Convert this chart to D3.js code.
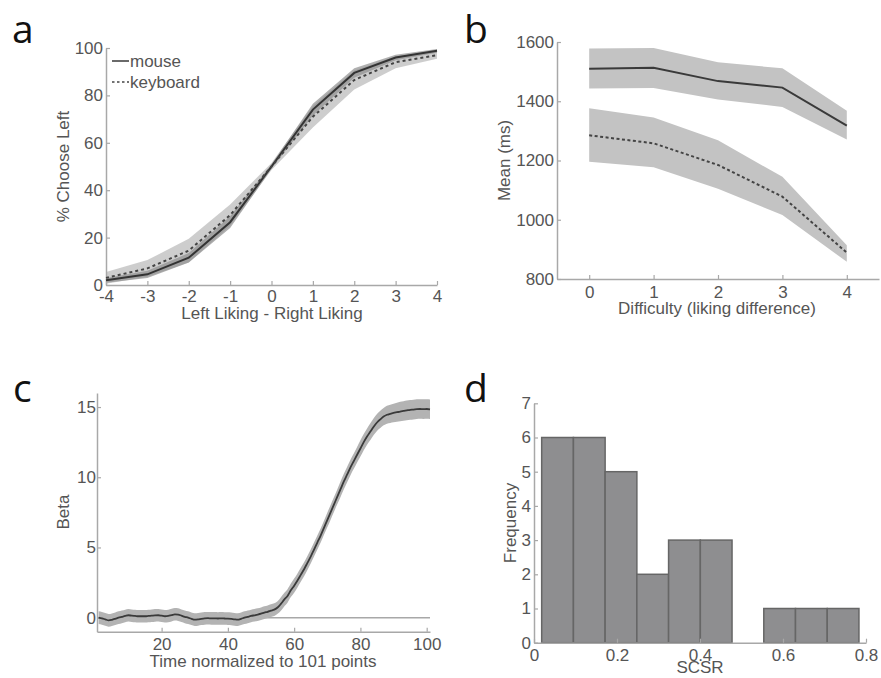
<!DOCTYPE html>
<html><head><meta charset="utf-8">
<script src="https://cdn.jsdelivr.net/npm/d3@7"></script>
<style>
html,body{margin:0;padding:0;background:#fff;}
svg{display:block;}
</style></head>
<body>
<svg id="chart" width="881" height="678"></svg>
<script>
// ---------- Panel a ----------
const aLiking = [-4, -3, -2, -1, 0, 1, 2, 3, 4];
const aMouse = [2, 4.5, 11.5, 26.5, 50, 74, 89.5, 96, 98.8];
const aMouseSE = [1, 1.5, 2, 2.5, 1, 2.5, 2, 1.2, 0.8];
const aKeyboard = [3, 7, 14.5, 29.5, 50, 71, 86.5, 94, 97];
const aKeyboardSE = [2.5, 3.5, 5, 4.5, 1.5, 4.5, 4, 2.5, 1.5];
const aXTicks = [-4, -3, -2, -1, 0, 1, 2, 3, 4];
const aYTicks = [0, 20, 40, 60, 80, 100];
const aLegend = ["mouse", "keyboard"];

// ---------- Panel b ----------
const bDifficulty = [0, 1, 2, 3, 4];
const bMouse = [1510, 1513, 1468, 1446, 1318];
const bMouseLo = [1443, 1445, 1406, 1381, 1271];
const bMouseHi = [1578, 1580, 1532, 1511, 1368];
const bKeyboard = [1285, 1258, 1185, 1078, 889];
const bKeyboardLo = [1196, 1177, 1105, 1016, 858];
const bKeyboardHi = [1376, 1345, 1268, 1145, 914];
const bXTicks = [0, 1, 2, 3, 4];
const bYTicks = [800, 1000, 1200, 1400, 1600];

// ---------- Panel c ----------
const cBeta = [
  0.0, -0.05, -0.12, -0.19, -0.15, -0.08, 0.0, 0.06, 0.12, 0.17,
  0.14, 0.12, 0.1, 0.1, 0.1, 0.12, 0.14, 0.16, 0.17, 0.14,
  0.1, 0.12, 0.18, 0.24, 0.22, 0.14, 0.06, 0.0, -0.08, -0.14,
  -0.12, -0.08, -0.05, -0.04, -0.05, -0.05, -0.06, -0.05, -0.06, -0.07,
  -0.09, -0.12, -0.14, -0.08, 0.0, 0.06, 0.12, 0.17, 0.22, 0.28,
  0.36, 0.42, 0.5, 0.57, 0.72, 0.98, 1.28, 1.55, 1.95, 2.28,
  2.65, 3.05, 3.45, 3.9, 4.35, 4.85, 5.35, 5.85, 6.4, 6.95,
  7.5, 8.05, 8.6, 9.15, 9.7, 10.2, 10.7, 11.15, 11.6, 12.05,
  12.5, 12.9, 13.25, 13.6, 13.9, 14.12, 14.32, 14.45, 14.52, 14.58,
  14.63, 14.68, 14.72, 14.76, 14.8, 14.82, 14.85, 14.86, 14.85, 14.86,
  14.84
];
const cSE = [
  0.45, 0.45, 0.45, 0.45, 0.45, 0.45, 0.45, 0.45, 0.45, 0.45,
  0.45, 0.45, 0.45, 0.45, 0.45, 0.45, 0.45, 0.45, 0.45, 0.45,
  0.45, 0.45, 0.45, 0.45, 0.45, 0.45, 0.45, 0.45, 0.45, 0.45,
  0.45, 0.45, 0.45, 0.45, 0.45, 0.45, 0.45, 0.45, 0.45, 0.45,
  0.45, 0.45, 0.45, 0.45, 0.45, 0.45, 0.45, 0.45, 0.45, 0.45,
  0.45, 0.45, 0.45, 0.45, 0.45, 0.48, 0.48, 0.48, 0.48, 0.5,
  0.5, 0.5, 0.5, 0.5, 0.5, 0.5, 0.5, 0.5, 0.5, 0.52,
  0.52, 0.52, 0.52, 0.55, 0.55, 0.55, 0.55, 0.55, 0.55, 0.58,
  0.58, 0.58, 0.6, 0.6, 0.6, 0.62, 0.62, 0.64, 0.65, 0.66,
  0.68, 0.7, 0.7, 0.7, 0.7, 0.7, 0.7, 0.7, 0.7, 0.7,
  0.7
];
const cXTicks = [20, 40, 60, 80, 100];
const cYTicks = [0, 5, 10, 15];

// ---------- Panel d ----------
const dBinEdges = [0.0185, 0.0950, 0.1714, 0.2479, 0.3243, 0.4008, 0.4772, 0.5537, 0.6301, 0.7066, 0.7830];
const dCounts = [6, 6, 5, 2, 3, 3, 0, 1, 1, 1];
const dXTicks = [0, 0.2, 0.4, 0.6, 0.8];
const dYTicks = [0, 1, 2, 3, 4, 5, 6, 7];

// ---------- styles ----------
const FONT = '"Liberation Sans", Arial, sans-serif';
const TXT = "#555";
const AXC = "#a8a8a8";
const FS = 17;
const plain = d => String(d);

const svg = d3.select("#chart");

function styleAxis(g) {
  g.select(".domain").attr("stroke", AXC).attr("stroke-width", 1.5);
  g.selectAll(".tick line").attr("stroke", AXC).attr("stroke-width", 1.2);
  g.selectAll(".tick text").attr("fill", TXT).attr("font-size", FS).attr("font-family", FONT);
}

function drawAxes(x, y, xTicks, yTicks, xPad, yPad) {
  const gx = svg.append("g").attr("transform", `translate(0,${y.range()[0]})`)
    .call(d3.axisBottom(x).tickValues(xTicks).tickSizeInner(-4).tickSizeOuter(0).tickPadding(xPad).tickFormat(plain));
  styleAxis(gx);
  const gy = svg.append("g").attr("transform", `translate(${x.range()[0]},0)`)
    .call(d3.axisLeft(y).tickValues(yTicks).tickSizeInner(-4).tickSizeOuter(0).tickPadding(yPad).tickFormat(plain));
  styleAxis(gy);
}

function label(text, x, y, rotate) {
  const t = svg.append("text").text(text).attr("font-family", FONT).attr("font-size", FS)
    .attr("fill", TXT).attr("text-anchor", "middle");
  if (rotate) t.attr("transform", `translate(${x},${y}) rotate(-90)`);
  else t.attr("x", x).attr("y", y);
}

function panelLetter(ch, x, y) {
  svg.append("text").text(ch).attr("x", x).attr("y", y)
    .attr("font-family", '"Open Sans", "Noto Sans", sans-serif').attr("font-size", 39).attr("fill", "#111");
}

// ===== Panel a =====
{
  const x = d3.scaleLinear().domain([-4, 4]).range([106, 437]);
  const y = d3.scaleLinear().domain([0, 100]).range([285, 48]);
  const area = (m, se) => d3.area().x((d, i) => x(aLiking[i])).y0((d, i) => y(Math.max(0, m[i] - se[i]))).y1((d, i) => y(Math.min(100, m[i] + se[i])));
  svg.append("path").datum(aLiking).attr("d", area(aKeyboard, aKeyboardSE)).attr("fill", "#c4c4c4").attr("opacity", 0.85);
  svg.append("path").datum(aLiking).attr("d", area(aMouse, aMouseSE)).attr("fill", "#8f8f8f").attr("opacity", 0.7);
  drawAxes(x, y, aXTicks, aYTicks, 5, 3);
  const line = (m) => d3.line().x((d, i) => x(aLiking[i])).y((d, i) => y(m[i]));
  svg.append("path").datum(aLiking).attr("d", line(aMouse)).attr("fill", "none").attr("stroke", "#333").attr("stroke-width", 2);
  svg.append("path").datum(aLiking).attr("d", line(aKeyboard)).attr("fill", "none").attr("stroke", "#444").attr("stroke-width", 2).attr("stroke-dasharray", "3,3");
  const lg = svg.append("g");
  aLegend.forEach((name, i) => {
    const yy = 61 + i * 21;
    lg.append("line").attr("x1", 112).attr("x2", 129).attr("y1", yy).attr("y2", yy)
      .attr("stroke", "#444").attr("stroke-width", 1.6).attr("stroke-dasharray", i === 0 ? null : "2.5,2.5");
    lg.append("text").text(name).attr("x", 130).attr("y", yy + 6).attr("font-family", FONT).attr("font-size", FS).attr("fill", TXT);
  });
  label("% Choose Left", 69, 166.5, true);
  label("Left Liking - Right Liking", 272, 319);
  panelLetter("a", 12, 43);
}

// ===== Panel b =====
{
  const x = d3.scaleLinear().domain([-0.5, 4.5]).range([557, 879]);
  const y = d3.scaleLinear().domain([800, 1600]).range([279, 42]);
  const band = (lo, hi) => d3.area().x((d, i) => x(bDifficulty[i])).y0((d, i) => y(lo[i])).y1((d, i) => y(hi[i]));
  svg.append("path").datum(bDifficulty).attr("d", band(bMouseLo, bMouseHi)).attr("fill", "#c3c3c3");
  svg.append("path").datum(bDifficulty).attr("d", band(bKeyboardLo, bKeyboardHi)).attr("fill", "#c3c3c3");
  drawAxes(x, y, bXTicks, bYTicks, 7, 3);
  const line = (m) => d3.line().x((d, i) => x(bDifficulty[i])).y((d, i) => y(m[i]));
  svg.append("path").datum(bDifficulty).attr("d", line(bMouse)).attr("fill", "none").attr("stroke", "#3a3a3a").attr("stroke-width", 2);
  svg.append("path").datum(bDifficulty).attr("d", line(bKeyboard)).attr("fill", "none").attr("stroke", "#444").attr("stroke-width", 2).attr("stroke-dasharray", "3,2.5");
  label("Mean (ms)", 510, 160.5, true);
  label("Difficulty (liking difference)", 717, 314);
  panelLetter("b", 464, 43);
}

// ===== Panel c =====
{
  const x = d3.scaleLinear().domain([0.5, 101]).range([97, 430]);
  const y = d3.scaleLinear().domain([-1, 16]).range([631.7, 393]);
  svg.append("line").attr("x1", x(0.5)).attr("x2", x(101)).attr("y1", y(0)).attr("y2", y(0)).attr("stroke", AXC).attr("stroke-width", 1.5);
  const area = d3.area().x((d, i) => x(i + 1)).y0((d, i) => y(cBeta[i] - cSE[i])).y1((d, i) => y(cBeta[i] + cSE[i])).curve(d3.curveMonotoneX);
  svg.append("path").datum(cBeta).attr("d", area).attr("fill", "#b3b3b3");
  drawAxes(x, y, cXTicks, cYTicks, 6, 1);
  const line = d3.line().x((d, i) => x(i + 1)).y((d) => y(d)).curve(d3.curveMonotoneX);
  svg.append("path").datum(cBeta).attr("d", line).attr("fill", "none").attr("stroke", "#3a3a3a").attr("stroke-width", 1.8);
  label("Beta", 69, 512, true);
  label("Time normalized to 101 points", 263, 667);
  panelLetter("c", 13, 402);
}

// ===== Panel d =====
{
  const x = d3.scaleLinear().domain([0, 0.8]).range([534, 866]);
  const y = d3.scaleLinear().domain([0, 7]).range([642.7, 403.3]);
  const bins = dCounts.map((c, i) => ({ c, x0: dBinEdges[i], x1: dBinEdges[i + 1] })).filter(b => b.c > 0);
  svg.append("g").selectAll("rect").data(bins).join("rect")
    .attr("x", b => x(b.x0))
    .attr("width", b => x(b.x1) - x(b.x0))
    .attr("y", b => y(b.c))
    .attr("height", b => y(0) - y(b.c))
    .attr("fill", "#8e8e90").attr("stroke", "#666").attr("stroke-width", 1.5);
  drawAxes(x, y, dXTicks, dYTicks, 6, 3);
  label("Frequency", 516, 523, true);
  label("SCSR", 700, 673);
  panelLetter("d", 464, 402);
}
</script>
</body></html>
